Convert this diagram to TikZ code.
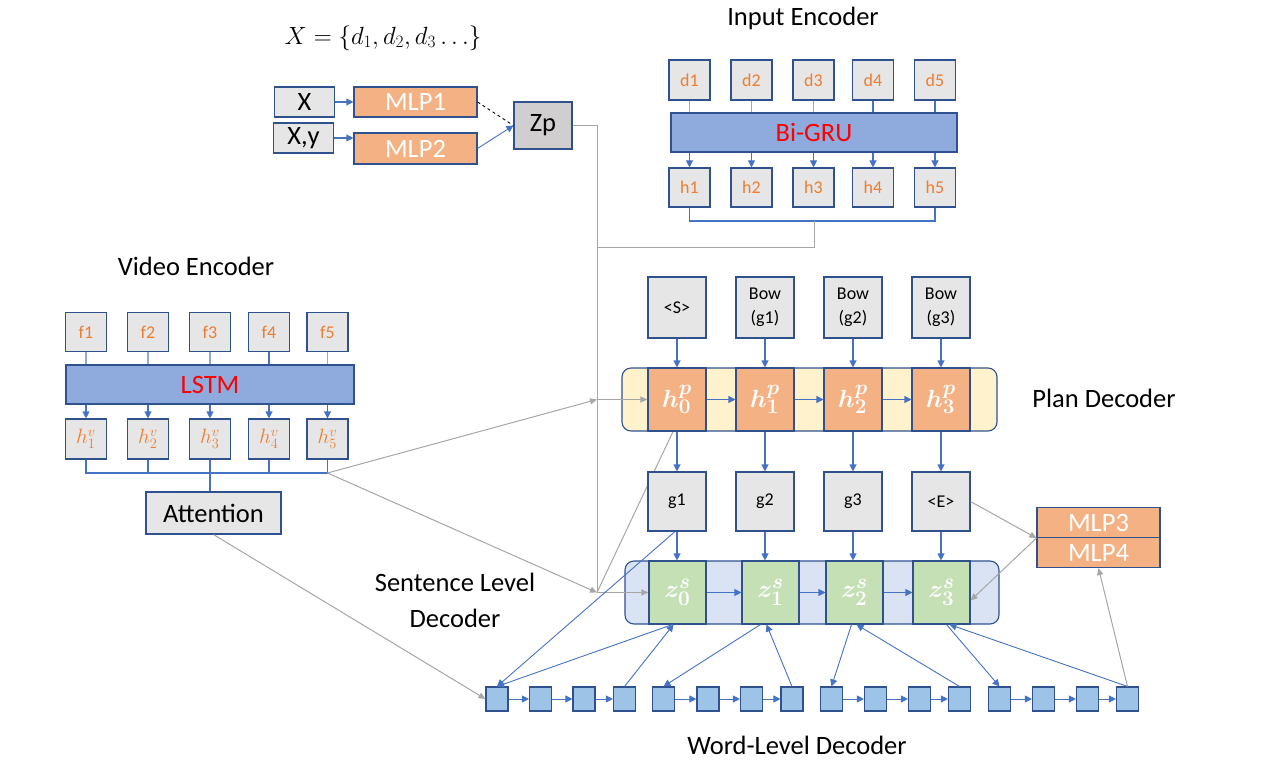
\documentclass[tikz,border=0pt]{standalone}
\usepackage{fontspec}
\setmainfont{Carlito}
\usetikzlibrary{arrows.meta,calc}
\definecolor{boxgray}{HTML}{E7E6E6}
\definecolor{zpgray}{HTML}{D0CECE}
\definecolor{dblue}{HTML}{2F528F}
\definecolor{orangetxt}{HTML}{ED7D31}
\definecolor{salmon}{HTML}{F4B183}
\definecolor{grufill}{HTML}{8FAADC}
\definecolor{ablue}{HTML}{4472C4}
\definecolor{lblue}{HTML}{8FAADC}
\definecolor{planbg}{HTML}{FFF2CC}
\definecolor{sentbg}{HTML}{DAE3F3}
\definecolor{zgreen}{HTML}{C5E0B4}
\definecolor{wordblue}{HTML}{9DC3E6}
\definecolor{glinec}{HTML}{A6A6A6}
\newcommand\fsS{\fontsize{18}{21}\selectfont}
\newcommand\fsL{\fontsize{26.5}{30}\selectfont}
\newcommand\fsT{\fontsize{26}{30}\selectfont}
\newcommand\fsM{\fontsize{28}{30}\selectfont\boldmath}
\newcommand\fsV{\fontsize{22}{24}\selectfont}
\pgfdeclarelayer{bg}
\pgfsetlayers{bg,main}
\begin{document}
\begin{tikzpicture}[x=1pt,y=-1pt,
  box/.style={draw=dblue,line width=1.1pt,inner sep=0pt,align=center},
  gbox/.style={box,fill=boxgray},
  obox/.style={box,fill=salmon,text=white,font=\fsL},
  sbox/.style={gbox,minimum width=41pt,minimum height=40pt,font=\fsS,text=orangetxt},
  pbox/.style={gbox,minimum width=58pt,font=\fsS},
  wbox/.style={box,fill=wordblue,minimum width=22pt,minimum height=24pt},
  barrow/.style={draw=ablue,line width=1.1pt,-{Triangle[length=7pt,width=7pt]}},
  warrow/.style={draw=ablue,line width=0.9pt,-{Triangle[length=7pt,width=7pt]}},
  bline/.style={draw=ablue,line width=1.1pt},
  lline/.style={draw=lblue,line width=1.4pt},
  gline/.style={draw=glinec,line width=1pt},
  garrow/.style={draw=glinec,line width=1pt,-{Triangle[length=7pt,width=6pt]}},
  lbl/.style={font=\fsL,align=center}]
\path[use as bounding box] (0,0) rectangle (1288,770);

% ---------- top-left ----------
\node[font=\fsT] (title) at (383,38) {$X=\{d_1,d_2,d_3\ldots\}$};
\node[gbox,minimum width=60pt,minimum height=30pt,font=\fsL] (X) at (304.5,102) {X};
\node[gbox,minimum width=60pt,minimum height=30pt,font=\fsL] (Xy) at (303.5,138) {X,y};
\node[obox,minimum width=123pt,minimum height=30pt] (M1) at (415.5,102) {MLP1};
\node[obox,minimum width=123pt,minimum height=31pt] (M2) at (415.5,148.5) {MLP2};
\node[box,fill=zpgray,minimum width=58pt,minimum height=47pt,font=\fsL] (Zp) at (543,125.5) {Zp};
\draw[barrow] (X) -- (M1);
\draw[barrow] (Xy.east) -- (Xy.east -| M2.west);
\draw[dashed,line width=0.9pt] (M1.east) -- (Zp.west);
\draw[barrow,line width=0.9pt] (M2.east) -- (Zp.west);

% ---------- input encoder ----------
\node[lbl] (ielab) at (803,18) {Input Encoder};
\foreach \i/\x in {1/689.5,2/751.5,3/813.5,4/873,5/935}{
  \node[sbox] (d\i) at (\x,80) {d\i};
  \node[sbox,minimum height=39pt] (h\i) at (\x,187.5) {h\i};
}
\node[box,fill=grufill,minimum width=286pt,minimum height=39pt,font=\fsL,text=red] (gru) at (814,132.5) {Bi-GRU};
\foreach \i in {1,2,3}{\draw[lline] (d\i.south) -- (d\i.south |- gru.north);}
\foreach \i in {4,5}{\draw[bline] (d\i.south) -- (d\i.south |- gru.north);}
\foreach \i in {1,...,5}{\draw[barrow] (h\i.north |- gru.south) -- (h\i.north);}
\coordinate (ib) at (814,221);
\coordinate (ibl) at (814,248);
\draw[bline] (h1.south) -- (h1.south |- ib) -- (h5.south |- ib) -- (h5.south);

% ---------- gray trunk ----------
\coordinate (vmid) at (597,399.5);
\coordinate (vbot) at (597,592.5);
\draw[gline] (Zp.east) -- (Zp.east -| vbot) -- (vbot);
\draw[gline] (ib) -- (ibl) -- (ibl -| vbot);

% ---------- video encoder ----------
\node[lbl] (velab) at (196,266) {Video Encoder};
\foreach \i/\x in {1/86,2/148,3/210,4/269,5/327.5}{
  \node[sbox,minimum height=39pt] (f\i) at (\x,332) {f\i};
  \node[sbox,font=\fsV] (v\i) at (\x,439) {$h_{\i}^{v}$};
}
\node[box,fill=grufill,minimum width=288pt,minimum height=39pt,font=\fsL,text=red] (lstm) at (210,384.5) {LSTM};
\foreach \i in {1,2,3,5}{\draw[lline] (f\i.south) -- (f\i.south |- lstm.north);}
\draw[bline] (f4.south) -- (f4.south |- lstm.north);
\foreach \i in {1,...,5}{\draw[barrow] (v\i.north |- lstm.south) -- (v\i.north);}
\coordinate (vb) at (327.5,473);
\node[gbox,minimum width=135pt,minimum height=42pt,font=\fsL] (att) at (213.5,513) {Attention};
\draw[bline] (v1.south) -- (v1.south |- vb) -- (vb) -- (v5.south);
\foreach \i in {2,4}{\draw[bline] (v\i.south) -- (v\i.south |- vb);}
\draw[bline] (v3.south) -- (att.north -| v3.south);

% ---------- plan decoder ----------
\node[box,rounded corners=9pt,fill=planbg,minimum width=375pt,minimum height=63pt] (pc) at (809.5,399.5) {};
\foreach \i/\x in {0/677,1/765,2/853,3/941}{
  \node[box,fill=salmon,minimum width=58pt,minimum height=63pt,font=\fsM,text=white] (p\i) at (\x,399.5) {$h_{\i}^{p}$};
}
\node[pbox,minimum height=61pt] (t0) at (677,307.5) {<S>};
\node[pbox,minimum height=61pt] (t1) at (765,307.5) {Bow\\[3pt](g1)};
\node[pbox,minimum height=61pt] (t2) at (853,307.5) {Bow\\[3pt](g2)};
\node[pbox,minimum height=61pt] (t3) at (941,307.5) {Bow\\[3pt](g3)};
\node[lbl] (pdlab) at (1104,398) {Plan Decoder};

% g boxes
\node[pbox,minimum height=59pt] (g1) at (677,501.5) {g1};
\node[pbox,minimum height=59pt] (g2) at (765,501.5) {g2};
\node[pbox,minimum height=59pt] (g3) at (853,501.5) {g3};
\node[pbox,minimum height=59pt] (g4) at (941,501.5) {<E>};

% ---------- sentence decoder ----------
\node[box,rounded corners=9pt,fill=sentbg,minimum width=374pt,minimum height=63pt] (sc) at (812,592.5) {};
\foreach \i/\x in {0/677.5,1/770.5,2/854.5,3/941.5}{
  \node[box,fill=zgreen,minimum width=57pt,minimum height=63pt,font=\fsM,text=white] (s\i) at (\x,592.5) {$z_{\i}^{s}$};
}
\node[lbl] (sllab) at (455,600) {Sentence Level\\[6pt]Decoder};

% MLP3 / MLP4
\node[obox,minimum width=123pt,minimum height=30pt] (m3) at (1098.5,522.5) {MLP3};
\node[obox,minimum width=123pt,minimum height=30pt] (m4) at (1098.5,552.5) {MLP4};

% ---------- word decoder ----------
\foreach \i/\x in {1/497,2/540.5,3/584,4/624.5,5/663.5,6/708,7/751.5,8/792,9/831.5,10/875.5,11/919.5,12/959.5,13/999.5,14/1043.5,15/1087.5,16/1127.5}{
  \node[wbox] (w\i) at (\x,699) {};
}
\node[lbl] (wdlab) at (797,745) {Word-Level Decoder};
\foreach \a/\b in {1/2,2/3,3/4,5/6,6/7,7/8,9/10,10/11,11/12,13/14,14/15,15/16}{
  \draw[warrow] (w\a) -- (w\b);
}

% ---------- plan decoder arrows ----------
\foreach \i in {0,...,3}{\draw[barrow] (t\i.south) -- (p\i.north);}
\draw[barrow] (p0) -- (p1);
\draw[barrow] (p1) -- (p2);
\draw[barrow] (p2) -- (p3);
\draw[barrow] (p0.south) -- (g1.north);
\draw[barrow] (p1.south) -- (g2.north);
\draw[barrow] (p2.south) -- (g3.north);
\draw[barrow] (p3.south) -- (g4.north);
\draw[barrow] (g1.south) -- (g1.south |- s0.north);
\draw[barrow] (g2.south) -- (g2.south |- s1.north);
\draw[barrow] (g3.south) -- (g3.south |- s2.north);
\draw[barrow] (g4.south) -- (g4.south |- s3.north);
\draw[barrow] (s0) -- (s1);
\draw[barrow] (s1) -- (s2);
\draw[barrow] (s2) -- (s3);

% ---------- gray connectors ----------
\begin{pgfonlayer}{bg}
\draw[gline] ([xshift=-4pt]p0.south) -- (vbot);
\end{pgfonlayer}
\draw[garrow] (vmid) -- (p0.west);
\draw[garrow] (vbot) -- (s0.west);
\draw[garrow] (vb) -- (vmid);
\draw[garrow] (vb) -- (vbot);
\draw[garrow] (att.south) -- (w1.west);
\draw[garrow] (g4.east) -- (m3.south west);
\draw[garrow] (m3.south west) -- ([yshift=-8pt]s3.east);
\draw[garrow] (w16.north) -- (m4.south);

% ---------- word <-> sentence ----------
\draw[warrow] ([xshift=-2pt]g1.south) -- (w1.north);
\draw[warrow] ([xshift=-5pt]s0.south) -- (w1.north);
\draw[warrow] (w4.north) -- ([xshift=-4pt]s0.south);
\draw[warrow] ([xshift=-10pt]s1.south) -- (w5.north);
\draw[warrow] (w8.north) -- ([xshift=-4pt]s1.south);
\draw[warrow] ([xshift=-3pt]s2.south) -- (w9.north);
\draw[warrow] (w12.north) -- ([xshift=2pt]s2.south);
\draw[warrow] ([xshift=5pt]s3.south) -- (w13.north);
\draw[warrow] (w16.north) -- ([xshift=8pt]s3.south);
\end{tikzpicture}
\end{document}
